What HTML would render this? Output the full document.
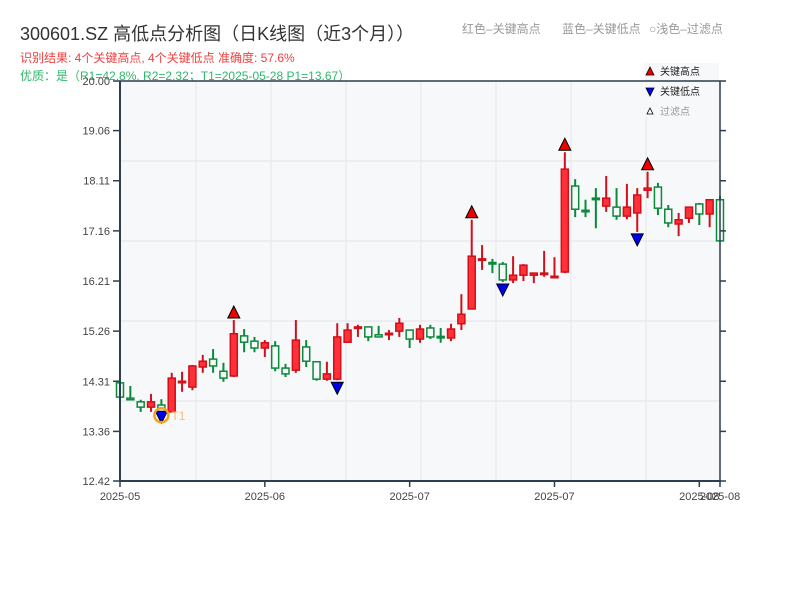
<!DOCTYPE html>
<html><head><meta charset="utf-8">
<style>
body{margin:0;background:#fff;width:800px;height:600px;overflow:hidden;font-family:"Liberation Sans","Noto Sans CJK SC",sans-serif;}
svg text{font-family:"Liberation Sans","Noto Sans CJK SC",sans-serif;}
</style></head><body>
<svg id="chart" width="800" height="600" xmlns="http://www.w3.org/2000/svg">
<text x="20" y="40" font-size="18" fill="#333">300601.SZ 高低点分析图（日K线图（近3个月））</text>
<text x="20" y="62" font-size="12" fill="#f04040">识别结果: 4个关键高点, 4个关键低点  准确度: 57.6%</text>
<text x="20" y="80" font-size="12" fill="#2eb86a">优质：是（R1=42.8%, R2=2.32；T1=2025-05-28 P1=13.67）</text>
<text x="462" y="33" font-size="12" fill="#999">红色–关键高点</text>
<text x="562" y="33" font-size="12" fill="#999">蓝色–关键低点</text>
<text x="649" y="33" font-size="12" fill="#999">○浅色–过滤点</text>
<rect x="120" y="81" width="600" height="400" fill="#f7f8fa"/>
<g id="grid"></g>
<g id="candles"></g>
<g id="markers"></g>
<g>
<rect x="645" y="63" width="74" height="54" fill="#f7f8fa"/>
<polygon points="646,75 654,75 650,67" fill="#e00" stroke="#000" stroke-width="0.8"/>
<text x="660" y="75" font-size="10" fill="#222">关键高点</text>
<polygon points="646,88 654,88 650,96" fill="#00e" stroke="#000" stroke-width="0.8"/>
<text x="660" y="95" font-size="10" fill="#222">关键低点</text>
<polygon points="647,114 653,114 650,108" fill="#fff" stroke="#000" stroke-width="0.8"/>
<text x="660" y="115" font-size="10" fill="#999">过滤点</text>
</g>
<g id="axes"></g>
</svg>
<script>
const opens=[14.28,13.99,13.92,13.82,13.86,13.73,14.30,14.20,14.58,14.73,14.50,14.41,15.17,15.07,14.94,14.98,14.56,14.52,14.96,14.68,14.35,14.35,15.05,15.32,15.34,15.19,15.20,15.26,15.28,15.11,15.32,15.16,15.13,15.40,15.68,16.62,16.56,16.53,16.23,16.32,16.32,16.35,16.29,16.38,18.01,17.55,17.78,17.63,17.61,17.44,17.50,17.93,17.99,17.57,17.29,17.40,17.67,17.48,17.75];
const highs=[14.28,14.22,13.96,14.07,13.97,14.47,14.49,14.62,14.81,14.92,14.66,15.47,15.30,15.15,15.09,15.07,14.64,15.47,15.09,14.69,14.68,15.41,15.41,15.38,15.34,15.36,15.28,15.51,15.28,15.38,15.38,15.32,15.40,15.96,17.37,16.89,16.63,16.57,16.68,16.53,16.36,16.78,16.66,18.65,18.14,17.75,17.97,18.20,17.97,18.05,17.97,18.28,18.07,17.65,17.50,17.61,17.69,17.76,17.82];
const lows=[14.01,13.96,13.73,13.73,13.78,13.73,14.11,14.14,14.47,14.47,14.30,14.39,14.86,14.86,14.77,14.50,14.39,14.47,14.58,14.32,14.32,14.33,15.04,15.15,15.07,15.15,15.09,15.15,14.94,15.04,15.11,15.04,15.07,15.28,15.68,16.42,16.36,16.19,16.17,16.21,16.17,16.29,16.27,16.36,17.42,17.42,17.21,17.52,17.37,17.38,17.14,17.78,17.46,17.23,17.06,17.31,17.27,17.23,16.97];
const closes=[14.01,13.96,13.82,13.92,13.80,14.37,14.31,14.60,14.69,14.60,14.37,15.21,15.05,14.94,15.04,14.56,14.45,15.09,14.69,14.35,14.45,15.15,15.28,15.34,15.15,15.15,15.22,15.41,15.11,15.30,15.15,15.15,15.30,15.58,16.68,16.63,16.55,16.23,16.32,16.51,16.36,16.36,16.30,18.33,17.57,17.54,17.77,17.78,17.44,17.61,17.84,17.97,17.59,17.31,17.37,17.61,17.48,17.75,16.97];
const highIdx=[11,34,43,51];
const lowIdx=[4,21,37,50];
const yTicks=["12.42","13.36","14.31","15.26","16.21","17.16","18.11","19.06","20.00"];
const xTickLabels=["2025-05","2025-06","2025-07","2025-07","2025-08","2025-08"];
const xTickIdx=[0,14,28,42,56,58];

const NS="http://www.w3.org/2000/svg";
const X0=120,X1=720,Y0=81,Y1=481,YMIN=12.42,YMAX=20.00;
const n=opens.length;
function xs(i){return X0+i*(X1-X0)/(n-1);}
function ys(v){return Y1-(v-YMIN)/(YMAX-YMIN)*(Y1-Y0);}
function mk(tag,attrs,parent){const e=document.createElementNS(NS,tag);for(const k in attrs)e.setAttribute(k,attrs[k]);parent.appendChild(e);return e;}
const grid=document.getElementById('grid');
for(let k=1;k<5;k++){const l=mk('line',{x1:X0,x2:X1,y1:Y0+k*80,y2:Y0+k*80,stroke:'#e2e4e8','stroke-width':1},grid);

}
for(let k=1;k<8;k++){const l=mk('line',{x1:X0+k*75+1,x2:X0+k*75+1,y1:Y0,y2:Y1,stroke:'#e4e6ea','stroke-width':1},grid);

}
const cg=document.getElementById('candles');
for(let i=0;i<n;i++){
  const up=closes[i]>=opens[i];
  const col=up?'#d0101a':'#0a8a3a';
  const g=mk('g',{},cg);
  
  
  const x=xs(i);
  mk('line',{x1:x,x2:x,y1:ys(highs[i]),y2:ys(lows[i]),stroke:col,'stroke-width':2},g);
  const top=ys(Math.max(opens[i],closes[i])),bot=ys(Math.min(opens[i],closes[i]));
  const h=Math.max(bot-top,1.5);
  mk('rect',{x:x-3.5,y:top,width:7,height:h,fill:up?'#ff3038':'#f7f8fa',stroke:col,'stroke-width':1.5},g);
}
const mg=document.getElementById('markers');
highIdx.forEach(i=>{const x=xs(i),y=ys(highs[i])-2;
 const p=mk('polygon',{points:`${x-6},${y} ${x+6},${y} ${x},${y-12}`,fill:'#ee0000',stroke:'#000','stroke-width':1},mg);
 
 });
lowIdx.forEach(i=>{const x=xs(i),y=ys(lows[i])+2;
 const p=mk('polygon',{points:`${x-6},${y} ${x+6},${y} ${x},${y+12}`,fill:'#0000ee',stroke:'#000','stroke-width':1},mg);
 
 });
{const x=xs(lowIdx[0]),y=ys(lows[lowIdx[0]])+6;
 const c=mk('circle',{cx:x,cy:y,r:7,fill:'none',stroke:'#f5a020','stroke-width':2.5},mg);
 
 
 const t=mk('text',{x:x+10,y:y+5,'font-size':12,fill:'#f5c070'},mg);t.textContent='T1';
 
 }
const ag=document.getElementById('axes');
mk('line',{x1:X0,x2:X1,y1:Y0,y2:Y0,stroke:'#2c3e50','stroke-width':1.5},ag);
mk('line',{x1:X0,x2:X0,y1:Y0,y2:Y1,stroke:'#2c3e50','stroke-width':2},ag);
mk('line',{x1:X1,x2:X1,y1:Y0,y2:Y1,stroke:'#2c3e50','stroke-width':1.5},ag);
mk('line',{x1:X0-1,x2:X1+1,y1:Y1,y2:Y1,stroke:'#2c3e50','stroke-width':2},ag);
yTicks.forEach(t=>{const y=ys(parseFloat(t));
 mk('line',{x1:X0-7,x2:X0,y1:y,y2:y,stroke:'#2c3e50','stroke-width':1.5},ag);
 mk('line',{x1:X1,x2:X1+6,y1:y,y2:y,stroke:'#2c3e50','stroke-width':1.5},ag);
 const tx=mk('text',{x:X0-10,y:y+4,'font-size':11,fill:'#444','text-anchor':'end'},ag);tx.textContent=t;
 
 });
xTickIdx.forEach((i,k)=>{const x=xs(i);
 mk('line',{x1:x,x2:x,y1:Y1,y2:Y1+6,stroke:'#2c3e50','stroke-width':1.5},ag);
 const tx=mk('text',{x:x,y:Y1+19,'font-size':11,fill:'#444','text-anchor':'middle'},ag);tx.textContent=xTickLabels[k];
 
 });
</script>
</body></html>
